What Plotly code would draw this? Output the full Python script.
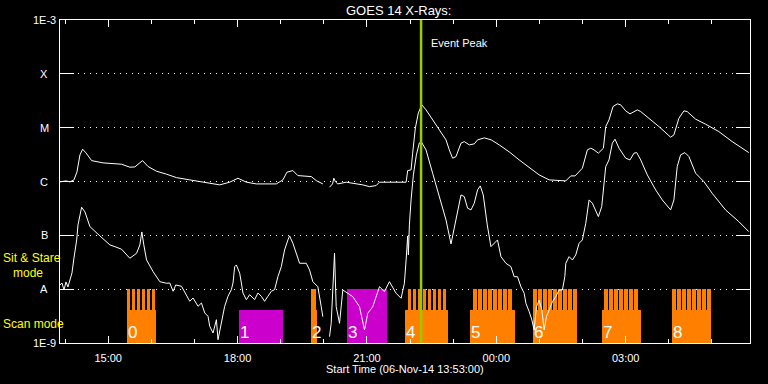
import math
import plotly.graph_objects as go
from datetime import datetime, timedelta

# ---------------- data ----------------
# time in hours UT since 2014-11-06 00:00 ; flux as log10(W/m^2)
long_hours = [13.883, 14.022, 14.115, 14.207, 14.277, 14.346, 14.408, 14.485, 14.617, 14.878,
              15.311, 15.503, 15.619, 15.797, 15.927, 16.121, 16.353, 16.584, 16.892, 17.193,
              17.587, 17.818, 18.010, 18.205, 18.436, 18.899, 19.052, 19.145, 19.284, 19.399,
              19.594, 19.710, 19.825, 19.978, None, 20.133, 20.203, 20.233, 20.272, 20.325,
              20.520, 20.904, 21.059, 21.214, 21.291, 21.677, 21.909, 21.946, 22.024, 22.061,
              22.124, 22.193, 22.274, 22.371, 22.494, 22.640, 22.726, 22.834, 22.911, 22.987,
              23.066, 23.182, 23.258, 23.374, 23.490, 23.566, 23.721, 23.883, 24.068, 24.300,
              24.531, 24.763, 24.994, 25.226, 25.457, 25.612, 25.728, 25.827, 25.996, 26.112,
              26.191, 26.267, 26.367, 26.484, 26.538, 26.614, 26.707, 26.807, 26.885, 27.001,
              27.101, 27.270, 27.349, 27.541, 27.772, 28.043, 28.119, 28.235, 28.351, 28.427,
              28.622, 28.853, 29.161, 29.469, 29.855]
long_logflux = [-6.007, -5.989, -6.007, -5.970, -5.822, -5.506, -5.400, -5.468, -5.612, -5.654,
                -5.679, -5.734, -5.729, -5.612, -5.723, -5.809, -5.864, -5.928, -5.970, -6.013,
                -6.063, -6.013, -5.939, -6.013, -6.045, -6.045, -5.970, -5.827, -5.797, -5.890,
                -5.909, -5.909, -5.983, -6.045, None, -6.106, -6.045, -5.939, -6.007, -6.045,
                -6.013, -6.063, -6.095, -6.076, -6.013, -6.013, -6.013, -5.797, -5.784, -5.474,
                -5.004, -4.725, -4.576, -4.669, -4.818, -4.980, -5.097, -5.227, -5.413, -5.567,
                -5.537, -5.288, -5.258, -5.320, -5.301, -5.227, -5.190, -5.227, -5.320, -5.450,
                -5.599, -5.747, -5.877, -5.970, -5.989, -5.989, -5.896, -5.896, -5.753, -5.413,
                -5.381, -5.413, -5.474, -5.381, -4.980, -4.855, -4.608, -4.558, -4.576, -4.688,
                -4.744, -4.669, -4.701, -4.824, -4.980, -5.177, -5.134, -4.824, -4.688, -4.701,
                -4.842, -4.935, -5.073, -5.258, -5.463]

short_hours = [13.883, 13.929, 13.976, 14.022, 14.068, 14.115, 14.161, 14.207, 14.270, 14.300,
               14.385, 14.462, 14.577, 14.809, 14.925, 15.040, 15.156, 15.311, 15.503, 15.659,
               15.735, 15.781, 15.827, 15.890, 16.043, 16.198, 16.353, 16.429, 16.506, 16.568,
               16.700, 16.816, 16.892, 16.969, 17.084, 17.163, 17.240, 17.316, 17.355, 17.432,
               17.510, 17.547, 17.626, 17.702, 17.779, 17.857, 17.895, 17.934, 17.973, 18.050,
               18.089, 18.126, 18.205, 18.281, 18.397, 18.473, 18.552, 18.628, 18.705, 18.784,
               18.860, 18.936, 19.015, 19.091, 19.168, 19.207, 19.284, 19.362, 19.439, 19.594,
               19.670, 19.746, 19.862, 19.941, 19.978, None, 20.133, 20.172, 20.209, 20.249,
               20.288, 20.365, 20.441, 20.550, 20.673, 20.828, 20.944, 21.020, 21.136, 21.291,
               21.406, 21.522, 21.677, 21.793, 21.869, 21.909, 21.946, 21.962, 21.985, 22.024,
               22.078, 22.147, 22.216, 22.263, 22.371, 22.524, 22.679, 22.834, 22.950, 23.066,
               23.182, 23.258, 23.335, 23.413, 23.490, 23.566, 23.629, 23.698, 23.791, 23.876,
               23.953, 24.029, 24.108, 24.223, 24.339, 24.415, 24.492, 24.571, 24.647, 24.687,
               24.763, 24.825, 24.878, 24.932, 24.994, 25.056, 25.110, 25.163, 25.226, 25.302,
               25.381, 25.457, 25.534, 25.589, 25.612, 25.689, 25.765, 25.843, 25.920, 25.996,
               26.075, 26.152, 26.228, 26.367, 26.445, 26.538, 26.614, 26.691, 26.753, 26.846,
               27.001, 27.101, 27.193, 27.256, 27.349, 27.502, 27.696, 27.849, 28.043, 28.119,
               28.196, 28.274, 28.374, 28.467, 28.622, 28.814, 29.006, 29.316, 29.624, 29.779,
               29.855]
short_logflux = [-7.922, -7.885, -8.015, -7.866, -7.959, -7.829, -7.699, -7.420, -7.086, -6.807,
                 -6.478, -6.565, -6.838, -7.011, -7.086, -7.178, -7.210, -7.258, -7.426, -7.333,
                 -7.178, -6.937, -7.178, -7.457, -7.675, -7.861, -7.890, -7.885, -8.039, -7.922,
                 -7.946, -8.132, -8.225, -8.164, -8.318, -8.257, -8.442, -8.504, -8.690, -8.814,
                 -8.567, -8.939, -8.628, -8.318, -8.132, -8.009, -7.885, -7.582, -7.550, -7.704,
                 -7.885, -8.071, -8.195, -8.102, -8.195, -8.071, -8.132, -8.225, -8.132, -8.039,
                 -8.009, -7.768, -7.582, -7.271, -7.086, -7.011, -7.147, -7.333, -7.519, -7.519,
                 -7.643, -7.861, -7.954, -8.325, -8.511, None, -8.883, -8.634, -8.015, -7.333,
                 -8.325, -8.634, -8.015, -8.071, -8.139, -8.325, -8.758, -8.448, -8.325, -7.954,
                 -8.046, -7.861, -8.076, -8.169, -7.890, -7.457, -7.011, -7.364, -6.807, -6.342,
                 -5.877, -5.506, -5.283, -5.264, -5.413, -5.846, -6.281, -6.714, -7.160, -6.714,
                 -6.249, -6.281, -6.496, -6.528, -6.403, -6.156, -6.082, -6.249, -6.807, -7.210,
                 -7.141, -7.086, -7.396, -7.519, -7.582, -7.768, -7.768, -7.954, -8.076, -8.262,
                 -8.418, -8.572, -8.758, -8.325, -8.201, -8.387, -8.758, -8.511, -8.387, -8.232,
                 -8.139, -8.015, -8.015, -7.768, -7.519, -7.396, -7.457, -7.364, -7.147, -7.086,
                 -6.775, -6.342, -6.403, -6.652, -6.467, -5.723, -5.599, -5.288, -5.214, -5.381,
                 -5.567, -5.599, -5.474, -5.463, -5.599, -5.877, -6.156, -6.342, -6.528, -6.342,
                 -5.723, -5.506, -5.463, -5.537, -5.846, -6.002, -6.218, -6.528, -6.745, -6.868,
                 -6.931]

# observing blocks (hours UT since 2014-11-06 00:00)
block_labels = ["0", "1", "2", "3", "4", "5", "6", "7", "8"]
block_scan_start = [15.427, 18.027, 19.694, 20.543, 21.892, 23.397, 24.855, 26.452, 28.073]
block_scan_end = [16.098, 19.061, 19.833, 21.469, 22.887, 24.432, 25.873, 27.348, 28.969]
block_colors = ["#ff8000", "#cc00cc", "#ff8000", "#cc00cc", "#ff8000",
                "#ff8000", "#ff8000", "#ff8000", "#ff8000"]

# sit & stare dwells: repeated pointings inside scan blocks
comb_start = [15.427, 21.945, 23.466, 24.855, 26.499, 28.073]
comb_count = [6, 8, 8, 9, 7, 8]
comb_cadence_min = 6.94
comb_dwell_min = 5.1
# continuous sit & stare intervals
stare_start = [19.694, 20.543]
stare_end = [19.810, 21.469]
stare_colors = ["#ff8000", "#cc00cc"]

event_peak_hour = 22.256
scan_band = (1e-9, 10 ** -8.387)
stare_band = (10 ** -8.387, 1e-8)

ytick_vals = [1e-9, 1e-8, 1e-7, 1e-6, 1e-5, 1e-4, 1e-3]
ytick_text = ["1E-9", "A", "B", "C", "M", "X", "1E-3"]
xtick_hours = [15, 18, 21, 24, 27]
xtick_text = ["15:00", "18:00", "21:00", "00:00", "03:00"]

# ---------------- helpers ----------------
T0 = datetime(2014, 11, 6)
W, H = 768, 384
ML, MR, MT, MB = 60, 18, 20, 41
PW, PH = W - ML - MR, H - MT - MB


def t(h):
    return None if h is None else T0 + timedelta(hours=h)


def f(v):
    return None if v is None else 10 ** v


def px(x):  # pixel -> paper x
    return (x - ML) / PW


def py(y):  # pixel -> paper y
    return (H - MB - y) / PH


FONT = "Liberation Sans"
fig = go.Figure()

# bars: scan band
bx, bw, bb, by, bc = [], [], [], [], []
for s, e, c in zip(block_scan_start, block_scan_end, block_colors):
    bx.append(t((s + e) / 2)); bw.append((e - s) * 3600e3)
    bb.append(scan_band[0]); by.append(scan_band[1] - scan_band[0]); bc.append(c)
# sit & stare comb
for s, n in zip(comb_start, comb_count):
    for i in range(n):
        st = s + i * comb_cadence_min / 60
        en = st + comb_dwell_min / 60
        bx.append(t((st + en) / 2)); bw.append((en - st) * 3600e3)
        bb.append(stare_band[0]); by.append(stare_band[1] - stare_band[0]); bc.append("#ff8000")
for s, e, c in zip(stare_start, stare_end, stare_colors):
    bx.append(t((s + e) / 2)); bw.append((e - s) * 3600e3)
    bb.append(stare_band[0]); by.append(stare_band[1] - stare_band[0]); bc.append(c)

fig.add_trace(go.Bar(x=bx, y=by, base=bb, width=bw, marker=dict(color=bc, line=dict(width=0)),
                     showlegend=False, hoverinfo="skip"))

fig.add_trace(go.Scatter(x=[t(h) for h in long_hours], y=[f(v) for v in long_logflux],
                         mode="lines", line=dict(color="white", width=1), connectgaps=False,
                         showlegend=False))
fig.add_trace(go.Scatter(x=[t(h) for h in short_hours], y=[f(v) for v in short_logflux],
                         mode="lines", line=dict(color="white", width=1), connectgaps=False,
                         showlegend=False))

annotations = []
for lab, s in zip(block_labels, block_scan_start):
    annotations.append(dict(x=t(s), y=-8.8, xref="x", yref="y", text=lab, showarrow=False,
                            xanchor="left", yanchor="middle", xshift=-1,
                            font=dict(family=FONT, size=17, color="white")))
for v, txt in zip(ytick_vals, ytick_text):
    annotations.append(dict(x=px(44), y=math.log10(v), xref="paper", yref="y", text=txt,
                            showarrow=False, xanchor="center", yanchor="middle",
                            font=dict(family=FONT, size=11, color="white")))
annotations += [
    dict(x=t(event_peak_hour), y=py(43), xref="x", yref="paper", xshift=8, text="Event Peak",
         showarrow=False, xanchor="left", yanchor="middle", font=dict(family=FONT, size=11, color="white")),
    dict(x=px(398), y=py(10), xref="paper", yref="paper", text="GOES 14 X-Rays:",
         showarrow=False, xanchor="center", yanchor="middle", font=dict(family=FONT, size=13, color="white")),
    dict(x=px(405), y=py(369), xref="paper", yref="paper", text="Start Time (06-Nov-14 13:53:00)",
         showarrow=False, xanchor="center", yanchor="middle", font=dict(family=FONT, size=11, color="white")),
    dict(x=px(1), y=py(258), xref="paper", yref="paper", text="Sit & Stare",
         showarrow=False, xanchor="left", yanchor="middle", font=dict(family=FONT, size=12, color="#ffff00")),
    dict(x=px(11), y=py(273), xref="paper", yref="paper", text="mode",
         showarrow=False, xanchor="left", yanchor="middle", font=dict(family=FONT, size=12, color="#ffff00")),
    dict(x=px(1), y=py(324), xref="paper", yref="paper", text="Scan mode",
         showarrow=False, xanchor="left", yanchor="middle", font=dict(family=FONT, size=12, color="#ffff00")),
]

fig.add_shape(type="line", x0=t(event_peak_hour), x1=t(event_peak_hour), y0=0, y1=1,
              xref="x", yref="paper", line=dict(color="#99cc00", width=2.5))

fig.update_layout(
    width=W, height=H, margin=dict(l=ML, r=MR, t=MT, b=MB),
    paper_bgcolor="black", plot_bgcolor="black", barmode="overlay", bargap=0,
    annotations=annotations, showlegend=False,
    xaxis=dict(type="date", range=[t(13 + 53 / 60), t(29 + 53 / 60)],
               tickvals=[t(h) for h in xtick_hours], ticktext=xtick_text,
               ticks="inside", ticklen=7, tickcolor="white", tickwidth=1, ticklabelstandoff=5,
               minor=dict(dtick=3600000, ticks="inside", ticklen=4, tickcolor="white", tickwidth=1, showgrid=False),
               showgrid=False, zeroline=False, showline=True, linecolor="white", linewidth=1,
               mirror="allticks", tickfont=dict(family=FONT, size=11, color="white")),
    yaxis=dict(type="log", range=[-9, -3], tickvals=ytick_vals, showticklabels=False,
               ticks="inside", ticklen=14, tickcolor="white", tickwidth=1,
               showgrid=True, gridcolor="white", gridwidth=1, griddash="1px,5px",
               zeroline=False, showline=True, linecolor="white", linewidth=1, mirror="allticks"),
)

fig.write_html("out.html")
